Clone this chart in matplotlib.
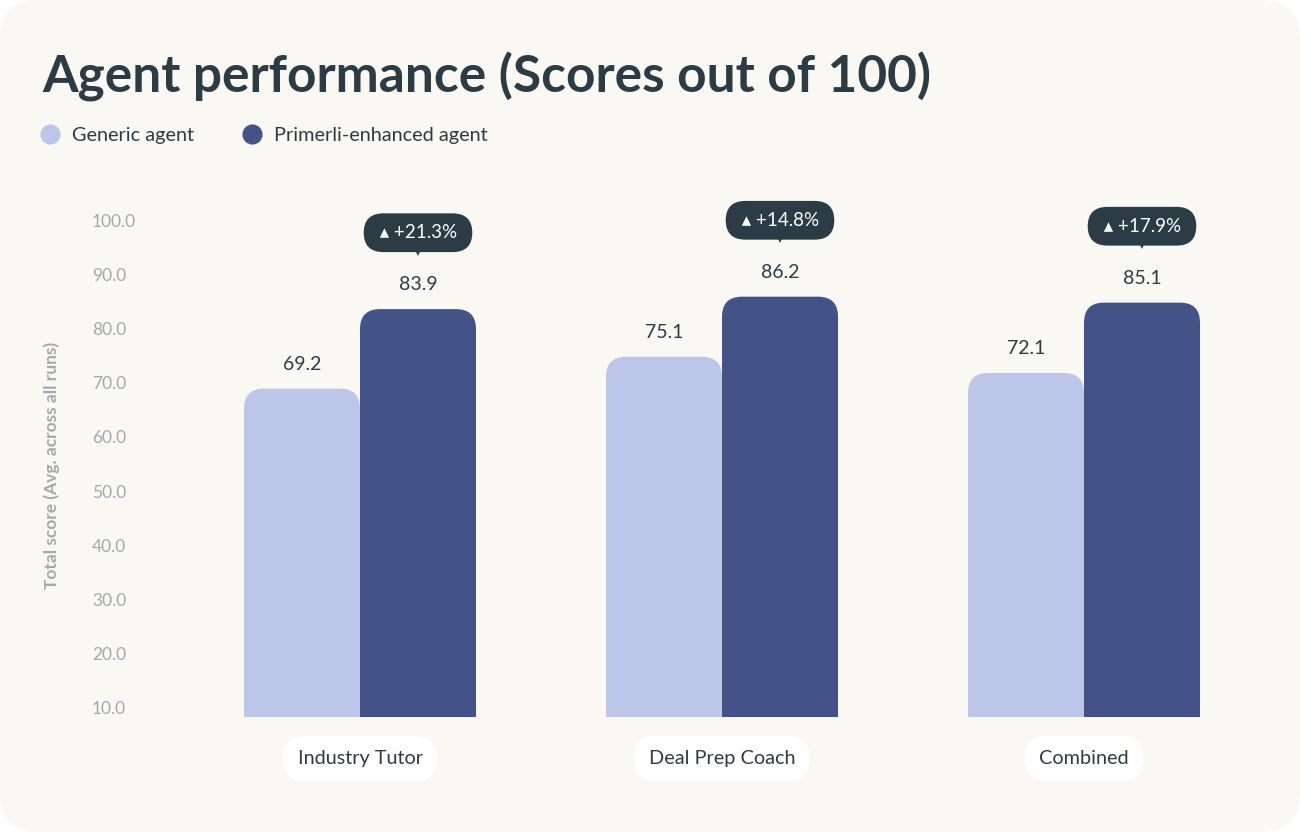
import matplotlib
matplotlib.use("Agg")
import matplotlib.pyplot as plt
from matplotlib.patches import FancyBboxPatch
from matplotlib.lines import Line2D
import matplotlib.transforms as mtransforms

# Data
categories = ["Industry Tutor", "Deal Prep Coach", "Combined"]
series_names = ["Generic agent", "Primerli-enhanced agent"]
generic = [69.2, 75.1, 72.1]
enhanced = [83.9, 86.2, 85.1]
uplift = ["+21.3%", "+14.8%", "+17.9%"]
yticks = [10, 20, 30, 40, 50, 60, 70, 80, 90, 100]

# Style
light = "#BCC6E8"
dark_bar = "#435387"
ink = "#2B3C45"
grey = "#A3A9AB"
card = "#F9F8F3"
plt.rcParams["font.family"] = ["Lato", "DejaVu Sans"]

W, H = 1300, 832
fig = plt.figure(figsize=(W / 100, H / 100), dpi=100)
fig.patch.set_facecolor("white")

# background card with rounded corners
fig.add_artist(FancyBboxPatch((0, 0), 1, 1, boxstyle="round,pad=0,rounding_size=0.03",
                              mutation_aspect=W / H, transform=fig.transFigure,
                              facecolor=card, edgecolor="none", zorder=-10))

# axes placed in pixel terms
ax_l, ax_r, ax_b, ax_t = 160, 1280, 717, 180
ax = fig.add_axes([ax_l / W, 1 - ax_b / H, (ax_r - ax_l) / W, (ax_b - ax_t) / H])
ax.set_facecolor("none")
px_per_unit = (709 - 222) / 90
y0 = 10 - (ax_b - 709) / px_per_unit
y1 = y0 + (ax_b - ax_t) / px_per_unit
ax.set_ylim(y0, y1)
group_px = 362
ax.set_xlim((ax_l - 360) / group_px, (ax_r - 360) / group_px)
for s in ax.spines.values():
    s.set_visible(False)
ax.set_xticks([])
ax.set_yticks([])

bw = 116 / group_px
r_x = 20 / group_px
aspect = (20 / px_per_unit) / r_x

for i, cat in enumerate(categories):
    for j, (vals, col) in enumerate([(generic, light), (enhanced, dark_bar)]):
        v = vals[i]
        left = i - bw + j * bw
        ax.add_patch(FancyBboxPatch((left, y0 - 10), bw, v - (y0 - 10),
                                    boxstyle=f"round,pad=0,rounding_size={r_x}",
                                    mutation_aspect=aspect, facecolor=col,
                                    edgecolor="none", zorder=2))
        ax.annotate(f"{v:.1f}", (left + bw / 2, v), xytext=(0, 17.5),
                    textcoords="offset points", ha="center", va="center",
                    fontsize=14, color=ink)
    # uplift badge above enhanced bar
    cx = i + bw / 2
    v = enhanced[i]
    ax.annotate(f" \u25B4 {uplift[i]} ", (cx, v), xytext=(0, 55),
                textcoords="offset points", ha="center", va="center",
                fontsize=13.5, color="white",
                bbox=dict(boxstyle="round,pad=0.58,rounding_size=1.05",
                          facecolor=ink, edgecolor="none"))
    ax.annotate("\u25BC", (cx, v), xytext=(0, 41), textcoords="offset points",
                ha="center", va="center", fontsize=5.5, color=ink,
                family="DejaVu Sans")
    # category pill
    ax.annotate(cat, (i, y0), xytext=(0, -30), textcoords="offset points",
                ha="center", va="center", fontsize=14.3, color=ink,
                bbox=dict(boxstyle="round,pad=0.72,rounding_size=1.1",
                          facecolor="white", edgecolor="none"),
                annotation_clip=False)

# y tick labels
tr = mtransforms.blended_transform_factory(ax.transAxes, ax.transData)
for t in yticks:
    ax.text((92 - ax_l) / (ax_r - ax_l), t, f"{t:.1f}", transform=tr,
            ha="left", va="center", fontsize=12.5, color=grey, clip_on=False)

fig.text(52 / W, 1 - 465 / H, "Total score (Avg. across all runs)", rotation=90,
         ha="center", va="center", fontsize=12.5, fontweight="bold", color=grey)

# title
fig.text(42 / W, 1 - 92 / H, "Agent performance (Scores out of 100)",
         ha="left", va="baseline", fontsize=37, fontweight="bold", color=ink)

# legend
for x_c, name, col in [(50, series_names[0], light), (252, series_names[1], dark_bar)]:
    fig.add_artist(Line2D([x_c / W], [1 - 134 / H], marker="o", markersize=13.5,
                          color=col, linestyle="none", transform=fig.transFigure))
    fig.text((x_c + 22) / W, 1 - 136 / H, name, ha="left", va="center",
             fontsize=14.3, color=ink)

fig.savefig("out.png", dpi=100, facecolor=fig.get_facecolor())
